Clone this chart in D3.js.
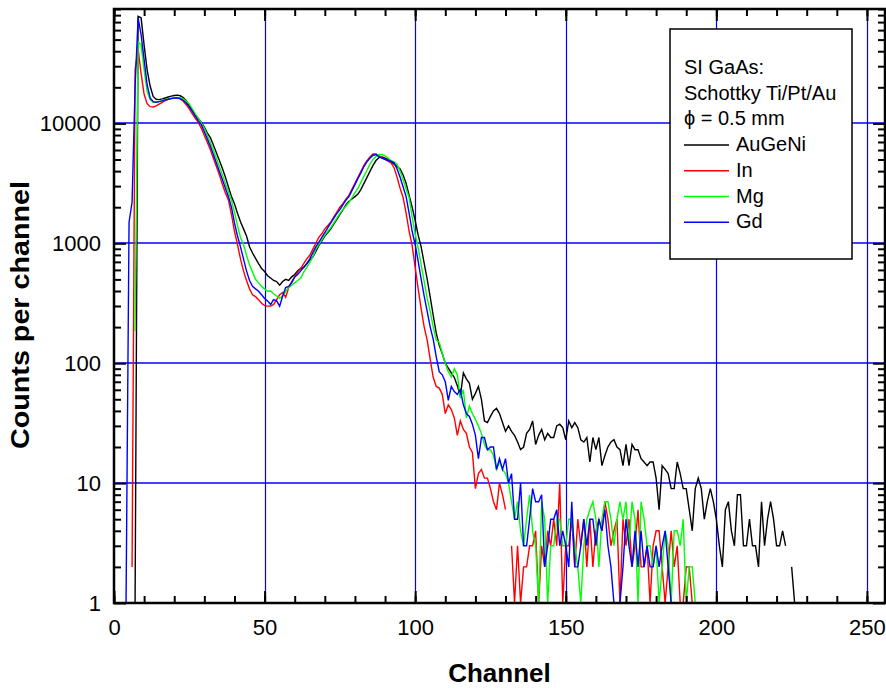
<!DOCTYPE html>
<html>
<head>
<meta charset="utf-8">
<script src="https://cdn.jsdelivr.net/npm/d3@7"></script>
<style>
  body { margin: 0; background: #fff; }
  svg { display: block; font-family: Arial, "Liberation Sans", sans-serif; }
</style>
</head>
<body>
<div id="chart"></div>
<script>
// tick labels
const xTicks = [0, 50, 100, 150, 200, 250];
const yTicks = [1, 10, 100, 1000, 10000];

// legend text
const legendTitle = ['SI GaAs:', 'Schottky Ti/Pt/Au', '\u03D5 = 0.5 mm'];
const seriesNames = ['AuGeNi', 'In', 'Mg', 'Gd'];
const seriesColors = ['#000000', '#ff0000', '#00ff00', '#0000ff'];
// channel of the first value in each counts array
const seriesFirstChannel = [7, 6, 7, 4];

// counts per channel, 0 = no counts (line broken)
const auGeNi = [
  1, 78000, 76000, 45000, 28000, 20500, 16800, 15900, 15800, 16000,
  16300, 16600, 16900, 17100, 17200, 17000, 16400, 15500, 14000, 12900,
  11700, 11000, 10200, 9300, 8300, 7600, 6600, 5700, 4900, 4200,
  3550, 2950, 2450, 2140, 1780, 1510, 1320, 1150, 935, 830,
  750, 676, 617, 582, 537, 513, 490, 480, 447, 480,
  500, 490, 525, 550, 590, 617, 630, 676, 724, 768,
  850, 955, 1050, 1150, 1230, 1320, 1450, 1580, 1740, 1900,
  2090, 2240, 2340, 2450, 2570, 2820, 3160, 3550, 3980, 4470,
  4900, 5190, 5250, 5130, 5010, 4790, 4570, 4370, 4170, 3720,
  3160, 2510, 2000, 1550, 1170, 930, 680, 500, 355, 250,
  178, 141, 120, 100, 91, 83, 76, 65, 53, 83,
  74, 68, 50, 56, 64, 50, 33, 32, 36, 40,
  42, 38, 32, 27, 30, 27, 25, 22, 19, 20,
  26, 28, 33, 21, 25, 28, 23, 26, 24, 24,
  30, 31, 29, 23, 33, 29, 32, 29, 23, 22,
  24, 15, 24, 19, 24, 14, 17, 20, 22, 23,
  20, 19, 14, 21, 14, 21, 19, 19, 16, 15,
  14, 15, 15, 11, 6, 14, 13, 12, 9, 9,
  15, 12, 9, 9, 6, 4, 9, 11, 9, 5,
  7, 9, 7, 5, 3, 2, 6, 7, 4, 3,
  8, 8, 3, 3, 5, 3, 3, 2, 7, 3,
  5, 7, 5, 3, 3, 4, 3, 0, 2, 1
];

const indium = [
  2, 28000, 42000, 26000, 17500, 14600, 13800, 13700, 14000, 14500,
  15000, 15500, 15900, 16100, 16300, 16300, 16000, 15300, 14300, 13200,
  12000, 11000, 10200, 9100, 7940, 6920, 6030, 5130, 4370, 3720,
  3090, 2630, 2290, 1740, 1260, 977, 741, 589, 490, 417,
  372, 359, 339, 316, 302, 299, 299, 309, 339, 372,
  389, 355, 427, 479, 525, 575, 617, 676, 741, 794,
  891, 1000, 1120, 1200, 1320, 1410, 1510, 1660, 1820, 2000,
  2140, 2340, 2510, 2820, 3160, 3550, 3980, 4470, 4900, 5250,
  5560, 5560, 5370, 5130, 5010, 4840, 4680, 4270, 3550, 2880,
  2400, 1780, 1260, 955, 631, 417, 282, 200, 155, 107,
  76, 64, 62, 55, 38, 45, 41, 35, 25, 33,
  28, 26, 20, 18, 9, 12, 13, 11, 11, 9,
  7, 6, 10, 8, 6, 0, 3, 1, 3, 1,
  2, 2, 3, 3, 4, 1, 3, 2, 4, 3,
  5, 3, 10, 1, 3, 3, 5, 2, 5, 3,
  5, 2, 5, 2, 4, 5, 4, 7, 5, 3,
  4, 5, 1, 5, 3, 5, 2, 3, 6, 2,
  2, 3, 1, 3, 4, 4, 2, 1, 2, 4,
  2, 3, 1, 1, 2, 2, 1
];

const magnesium = [
  185, 48000, 45000, 28000, 18500, 15800, 15000, 15000, 15200, 15500,
  15800, 16000, 16200, 16400, 16500, 16400, 16000, 15300, 14500, 13200,
  12000, 11000, 10100, 9120, 7940, 6920, 6030, 5130, 4370, 3720,
  3160, 2690, 2290, 1820, 1410, 1120, 977, 794, 661, 575,
  501, 468, 437, 417, 398, 400, 380, 363, 347, 363,
  398, 427, 447, 468, 490, 513, 575, 631, 692, 769,
  891, 977, 1070, 1170, 1260, 1350, 1480, 1620, 1780, 1910,
  2040, 2190, 2400, 2630, 2880, 3240, 3630, 4070, 4570, 5010,
  5310, 5500, 5500, 5370, 5130, 4900, 4790, 4570, 3980, 3390,
  2820, 2400, 1660, 1200, 912, 661, 479, 347, 269, 200,
  155, 150, 121, 100, 85, 77, 90, 80, 51, 60,
  35, 44, 38, 34, 30, 26, 21, 19, 19, 17,
  13, 15, 13, 12, 10, 7, 5, 7, 4, 3,
  5, 8, 4, 3, 1, 7, 5, 1, 3, 3,
  5, 5, 3, 3, 5, 5, 3, 2, 1, 3,
  5, 6, 7, 5, 2, 5, 7, 7, 5, 3,
  5, 7, 5, 7, 3, 7, 5, 1, 7, 5,
  3, 3, 2, 3, 1, 2, 4, 3, 1, 4,
  4, 3, 5, 1, 2, 2, 1
];

const gadolinium = [
  1, 1500, 2200, 20000, 76000, 55000, 34000, 21000, 16300, 15200,
  15000, 15200, 15400, 15700, 15900, 16100, 16300, 16300, 16100, 15600,
  14800, 13800, 12600, 11500, 10500, 9770, 8510, 7410, 6460, 5500,
  4680, 3980, 3390, 2880, 2450, 2000, 1480, 1150, 933, 741,
  589, 490, 437, 417, 398, 372, 347, 331, 309, 339,
  331, 299, 363, 427, 437, 468, 525, 550, 589, 631,
  676, 741, 832, 933, 1020, 1120, 1230, 1350, 1480, 1620,
  1780, 1910, 2090, 2290, 2450, 2750, 3090, 3470, 3890, 4370,
  4790, 5130, 5430, 5500, 5250, 5130, 5010, 4900, 4840, 4700,
  4170, 3550, 2950, 2450, 1780, 1260, 977, 708, 501, 363,
  269, 200, 158, 113, 85, 80, 70, 49, 64, 58,
  55, 60, 45, 38, 36, 31, 25, 16, 24, 24,
  19, 20, 20, 13, 16, 13, 16, 10, 12, 5,
  5, 10, 3, 3, 5, 9, 7, 7, 8, 2,
  3, 5, 5, 6, 3, 4, 3, 2, 7, 2,
  2, 3, 5, 3, 5, 5, 3, 5, 4, 6,
  3, 2, 1, 1, 1, 2, 5, 3, 2, 4,
  2, 4, 2, 3, 2, 2, 3, 2, 3, 4,
  2, 1, 1, 1, 1, 1, 1
];

const seriesCounts = [auGeNi, indium, magnesium, gadolinium];

const width = 886, height = 688;
const plot = { left: 114, right: 885, top: 9, bottom: 603 };

const svg = d3.select('#chart').append('svg')
  .attr('width', width)
  .attr('height', height);

const x = d3.scaleLinear().domain([0, 256]).range([plot.left, plot.right]);
const y = d3.scaleLog().domain([1, 90000]).range([plot.bottom, plot.top]);

// grid lines
const grid = svg.append('g');
grid.selectAll('.gx').data(xTicks.filter(d => d > 0)).enter().append('line')
  .attr('x1', d => Math.round(x(d)) + 0.5).attr('x2', d => Math.round(x(d)) + 0.5)
  .attr('y1', plot.top).attr('y2', plot.bottom)
  .style('stroke', '#0000ff').style('stroke-width', '1.2px');
grid.selectAll('.gy').data(yTicks.filter(d => d > 1)).enter().append('line')
  .attr('y1', d => Math.round(y(d))).attr('y2', d => Math.round(y(d)))
  .attr('x1', plot.left).attr('x2', plot.right)
  .style('stroke', '#0000ff').style('stroke-width', '1.4px');

// data lines
svg.append('clipPath').attr('id', 'clip').append('rect')
  .attr('x', plot.left).attr('y', plot.top)
  .attr('width', plot.right - plot.left).attr('height', plot.bottom - plot.top);

const line = d3.line()
  .defined(d => d.v > 0)
  .x(d => x(d.ch))
  .y(d => y(d.v));

const lines = svg.append('g').attr('clip-path', 'url(#clip)');
seriesCounts.forEach((counts, i) => {
  const pts = counts.map((v, k) => ({ ch: seriesFirstChannel[i] + k, v: v }));
  lines.append('path')
    .datum(pts)
    .attr('fill', 'none')
    .attr('stroke', seriesColors[i])
    .attr('stroke-width', 1.4)
    .attr('d', line);
});

// axes, ticks pointing inward on all four sides
const xMinor = d3.range(0, 256, 10);
const yMinor = [];
for (let e = 0; e <= 4; e++) for (let k = 2; k <= 9; k++) yMinor.push(k * Math.pow(10, e));

function styleAxis(g) {
  g.select('.domain').remove();
  g.attr('font-size', null).attr('font-family', null);
  g.selectAll('line').attr('stroke', '#000').attr('stroke-width', 2);
  g.selectAll('text').style('font-size', '22px');
}

svg.append('g').attr('transform', `translate(0,${plot.bottom})`)
  .call(d3.axisBottom(x).tickValues(xMinor).tickSize(-7).tickFormat('')).call(styleAxis);
svg.append('g').attr('transform', `translate(0,${plot.bottom})`)
  .call(d3.axisBottom(x).tickValues(xTicks).tickSize(-12).tickPadding(16).tickFormat(d3.format('d'))).call(styleAxis);
svg.append('g').attr('transform', `translate(0,${plot.top})`)
  .call(d3.axisTop(x).tickValues(xMinor).tickSize(-7).tickFormat('')).call(styleAxis);
svg.append('g').attr('transform', `translate(0,${plot.top})`)
  .call(d3.axisTop(x).tickValues(xTicks).tickSize(-12).tickFormat('')).call(styleAxis);

svg.append('g').attr('transform', `translate(${plot.left},0)`)
  .call(d3.axisLeft(y).tickValues(yMinor).tickSize(-7).tickFormat('')).call(styleAxis);
svg.append('g').attr('transform', `translate(${plot.left},0)`)
  .call(d3.axisLeft(y).tickValues(yTicks).tickSize(-12).tickPadding(13).tickFormat(d3.format('d'))).call(styleAxis);
svg.append('g').attr('transform', `translate(${plot.right},0)`)
  .call(d3.axisRight(y).tickValues(yMinor).tickSize(-7).tickFormat('')).call(styleAxis);
svg.append('g').attr('transform', `translate(${plot.right},0)`)
  .call(d3.axisRight(y).tickValues(yTicks).tickSize(-12).tickFormat('')).call(styleAxis);

// frame
svg.append('rect')
  .attr('x', plot.left).attr('y', plot.top)
  .attr('width', plot.right - plot.left).attr('height', plot.bottom - plot.top)
  .attr('fill', 'none').attr('stroke', '#000').attr('stroke-width', 2.5);

// axis titles
svg.append('text')
  .attr('x', (plot.left + plot.right) / 2).attr('y', 682)
  .attr('text-anchor', 'middle')
  .style('font-size', '26px').style('font-weight', 'bold')
  .text('Channel');
svg.append('text')
  .attr('transform', 'translate(29,315) rotate(-90)')
  .attr('text-anchor', 'middle')
  .attr('textLength', 268).attr('lengthAdjust', 'spacingAndGlyphs')
  .style('font-size', '26px').style('font-weight', 'bold')
  .text('Counts per channel');

// legend
const legend = svg.append('g').attr('transform', 'translate(670,29)');
legend.append('rect')
  .attr('width', 182).attr('height', 230)
  .attr('fill', '#fff').attr('stroke', '#000').attr('stroke-width', 1.5);
legend.selectAll('.title').data(legendTitle).enter().append('text')
  .attr('x', 14).attr('y', (d, i) => 45 + i * 25.7)
  .style('font-size', '20px')
  .text(d => d);
seriesNames.forEach((name, i) => {
  const yy = 45 + (i + 3) * 25.7;
  legend.append('line')
    .attr('x1', 14).attr('x2', 59)
    .attr('y1', yy - 6).attr('y2', yy - 6)
    .attr('stroke', seriesColors[i]).attr('stroke-width', 1.5);
  legend.append('text')
    .attr('x', 66).attr('y', yy)
    .style('font-size', '20px')
    .text(name);
});
</script>
</body>
</html>
